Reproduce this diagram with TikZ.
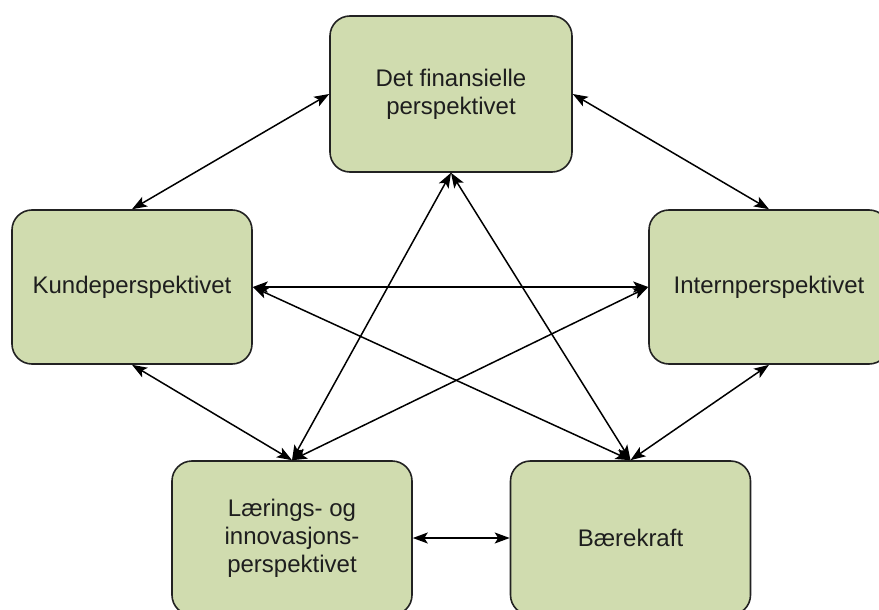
\documentclass[tikz,border=0pt]{standalone}
\usepackage{fontspec}
\setmainfont{Liberation Sans}
\usetikzlibrary{arrows.meta}
\definecolor{boxfill}{RGB}{208,220,175}
\definecolor{boxline}{RGB}{34,34,34}
\definecolor{txt}{RGB}{30,30,30}
\begin{document}
\begin{tikzpicture}[x=1pt,y=-1pt,
  persp/.style={draw=boxline, line width=1.6pt, fill=boxfill, rounded corners=20pt,
    minimum width=240pt, minimum height=154pt, inner sep=0pt, align=center,
    text=txt, font=\fontsize{24}{28}\selectfont},
  tip/.style={Stealth[length=15pt,width=11pt,inset=3.5pt]},
  link/.style={line width=1.5pt, draw=black, {Stealth[length=15pt,width=11pt,inset=3.5pt]}-{Stealth[length=15pt,width=11pt,inset=3.5pt]}}
]
\clip (0,0) rectangle (879,610);
\fill[white] (0,0) rectangle (879,610);

% the five perspectives
\node[persp, minimum width=242pt, minimum height=156pt] (fin) at (451,94) {Det finansielle\\perspektivet};
\node[persp] (kunde) at (132,287) {Kundeperspektivet};
\node[persp] (intern) at (769,287) {Internperspektivet};
\node[persp] (laer) at (292,538) {Lærings- og\\innovasjons-\\perspektivet};
\node[persp] (bae) at (630.5,538) {Bærekraft};

% two-way links between every pair
\draw[link] (fin.west) -- (kunde.north);
\draw[link] (fin.east) -- (intern.north);
\draw[link] (fin.south) -- (laer.north);
\draw[link] (fin.south) -- (bae.north);
\draw[link] (kunde.east) -- (intern.west);
\draw[link] (kunde.east) -- (bae.north);
\draw[link] (intern.west) -- (laer.north);
\draw[link] (kunde.south) -- (laer.north);
\draw[link] (intern.south) -- (bae.north);
\draw[link] (laer.east) -- (bae.west);
\end{tikzpicture}
\end{document}
